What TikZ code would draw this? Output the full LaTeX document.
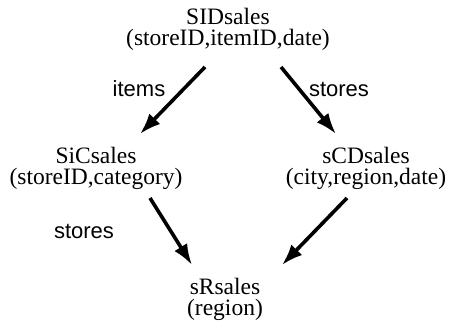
\documentclass[tikz,border=0pt]{standalone}
\usepackage{fontspec}
\setmainfont{Liberation Serif}
\setsansfont{Liberation Sans}
\usetikzlibrary{arrows.meta}
\begin{document}
\begin{tikzpicture}[x=1pt,y=-1pt,
  rel/.style={inner sep=0pt, align=center, font=\fontsize{23.5}{21.5}\selectfont},
  lbl/.style={inner sep=0pt, anchor=base, font=\sffamily\fontsize{22}{24}\selectfont},
  arr/.style={line width=3.6pt, -{Latex[length=21pt,width=15pt]}}]
\useasboundingbox (0,0) rectangle (453,321);
\node[rel] (sid) at (228,29.5) {SIDsales\\(storeID,itemID,date)};
\node[rel] (sic) at (96,168.5) {SiCsales\\(storeID,category)};
\node[rel] (scd) at (366,168.5) {sCDsales\\(city,region,date)};
\node[rel] (sr) at (225,299.5) {sRsales\\(region)};
\coordinate (a1s) at (205,67);  \coordinate (a1e) at (140,134);
\coordinate (a2s) at (281,67);  \coordinate (a2e) at (336,134);
\coordinate (a3s) at (150,198); \coordinate (a3e) at (192,265);
\coordinate (a4s) at (347,198); \coordinate (a4e) at (282,265);
\draw[arr] (a1s) -- (a1e);
\draw[arr] (a2s) -- (a2e);
\draw[arr] (a3s) -- (a3e);
\draw[arr] (a4s) -- (a4e);
\node[lbl] (l1) at (139,97) {items};
\node[lbl] (l2) at (339,97) {stores};
\node[lbl] (l3) at (84,238) {stores};
\end{tikzpicture}
\end{document}
